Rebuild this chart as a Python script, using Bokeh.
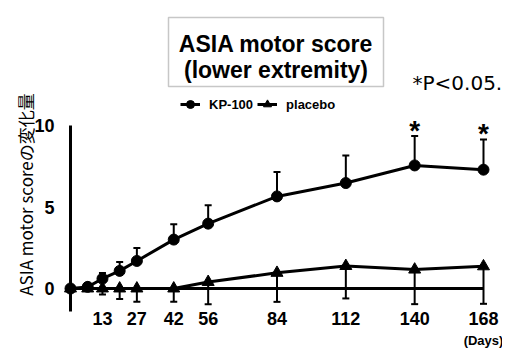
from bokeh.plotting import figure
from bokeh.models import (Range1d, Label, Legend, LegendItem, BoxAnnotation, Whisker,
                          ColumnDataSource, FixedTicker, TeeHead)
from bokeh.embed import file_html
from bokeh.resources import INLINE
from bokeh.core.properties import value

# ---- data ----
days = [0, 7, 13, 20, 27, 42, 56, 84, 112, 140, 168]
kp100 = [0, 0.1, 0.6, 1.08, 1.69, 3.0, 3.98, 5.65, 6.47, 7.55, 7.29]
kp100_upper = [0, 0.2, 0.95, 1.63, 2.49, 3.94, 5.1, 7.14, 8.16, 9.35, 9.14]
placebo = [0, 0, 0, 0, 0, 0, 0.4, 0.96, 1.38, 1.16, 1.36]
placebo_lower = [0, 0, -0.37, -0.65, -0.82, -0.82, -0.96, -0.82, -0.61, -0.96, -0.94]
x_ticks = [13, 27, 42, 56, 84, 112, 140, 168]
y_ticks = [0, 5, 10]
sig_days = [140, 168]
series_names = ["KP-100", "placebo"]
title_lines = ["ASIA motor score", "(lower extremity)"]
y_label = "ASIA motor scoreの変化量"
sig_note = "*P<0.05."
x_unit = "(Days)"

# ---- layout helpers (pixel of the canvas -> data) ----
PX_DAY = 2.4583   # px per day
PX_UNIT = 16.3    # px per score unit
X0_PX, Y0_PX = 70, 288


def xd(px):
    return (px - X0_PX) / PX_DAY


def yd(py):
    return (Y0_PX - py) / PX_UNIT


W, H = 502, 348

p = figure(width=W, height=H, output_backend="svg", toolbar_location=None,
           x_range=Range1d(xd(0), xd(W)), y_range=Range1d(yd(H), yd(0)),
           min_border_left=0, min_border_right=0, min_border_top=0, min_border_bottom=0)
p.outline_line_color = None
p.grid.visible = False
p.background_fill_color = "white"
p.border_fill_color = "white"

# y axis at x=0
ya = p.yaxis[0]
ya.fixed_location = 0
ya.bounds = (-1.43, 10)
ya.ticker = FixedTicker(ticks=y_ticks)
ya.axis_line_width = 3
ya.axis_line_color = "black"
ya.major_tick_line_color = None
ya.minor_tick_line_color = None
ya.major_label_standoff = 10
ya.major_label_text_font = "Liberation Sans"
ya.major_label_text_font_style = "bold"
ya.major_label_text_font_size = "18px"
ya.major_label_text_color = "black"

# x axis labels only, below the data area
xa = p.xaxis[0]
xa.fixed_location = yd(304)
xa.ticker = FixedTicker(ticks=x_ticks)
xa.axis_line_color = None
xa.major_tick_line_color = None
xa.minor_tick_line_color = None
xa.major_label_standoff = 1
xa.major_label_text_font = "Liberation Sans"
xa.major_label_text_font_style = "bold"
xa.major_label_text_font_size = "18px"
xa.major_label_text_color = "black"

# zero baseline
p.line(x=[min(days), max(days)], y=[0, 0], line_width=3, line_color="black")

# error bars
kp_src = ColumnDataSource(dict(x=days, lower=kp100, upper=kp100_upper))
pl_src = ColumnDataSource(dict(x=days, lower=placebo_lower, upper=placebo))
p.add_layout(Whisker(base="x", lower="lower", upper="upper", source=kp_src,
                     line_width=2, line_color="black",
                     upper_head=TeeHead(size=7, line_width=2, line_color="black"),
                     lower_head=None))
p.add_layout(Whisker(base="x", lower="lower", upper="upper", source=pl_src,
                     line_width=2, line_color="black",
                     lower_head=TeeHead(size=7, line_width=2, line_color="black"),
                     upper_head=None))

# series
l1 = p.line(days, kp100, line_width=3, line_color="black")
s1 = p.scatter(days, kp100, marker="circle", size=11, color="black")
l2 = p.line(days, placebo, line_width=3, line_color="black")
s2 = p.scatter(days, placebo, marker="triangle", size=12, color="black")

# significance asterisks
sig_y = [kp100_upper[days.index(d)] for d in sig_days]
p.text(x=sig_days, y=sig_y, text=["*"] * len(sig_days), text_align="center",
       text_baseline="alphabetic", y_offset=-6, text_font=value("Liberation Sans"),
       text_font_style="bold", text_font_size="28px", text_color="black")

# legend
legend = Legend(items=[LegendItem(label=series_names[0], renderers=[l1, s1]),
                       LegendItem(label=series_names[1], renderers=[l2, s2])],
                orientation="horizontal", location=(180, H - 114),
                padding=0, margin=0, spacing=4, label_standoff=9, glyph_width=20,
                glyph_height=20, border_line_color=None, background_fill_alpha=0,
                label_text_font="Liberation Sans", label_text_font_style="bold",
                label_text_font_size="13px", label_text_color="black")
p.add_layout(legend)

# title box
p.add_layout(BoxAnnotation(left=xd(168), right=xd(383), top=yd(17), bottom=yd(86),
                           fill_alpha=0, line_color="#444444", line_width=1.5))
for i, t in enumerate(title_lines):
    p.add_layout(Label(x=xd(275.5), y=yd(43 + 26 * i), text=t, text_align="center",
                       text_baseline="middle", text_font="Liberation Sans",
                       text_font_style="bold", text_font_size="23px", text_color="black"))

# significance note
p.add_layout(Label(x=xd(412), y=yd(82), text=sig_note, text_align="left",
                   text_baseline="middle", text_font="DejaVu Sans",
                   text_font_size="20px", text_color="black"))

# y-axis label
p.add_layout(Label(x=xd(25), y=yd(194), text=y_label, angle=1.5708,
                   text_align="center", text_baseline="middle",
                   text_font="Noto Sans CJK JP", text_font_size="17px",
                   text_color="black"))

# x unit
p.add_layout(Label(x=max(x_ticks), y=yd(340), text=x_unit, text_align="center",
                   text_baseline="middle", text_font="Liberation Sans",
                   text_font_style="bold", text_font_size="13px", text_color="black"))

open("out.html", "w").write(file_html(p, INLINE))
